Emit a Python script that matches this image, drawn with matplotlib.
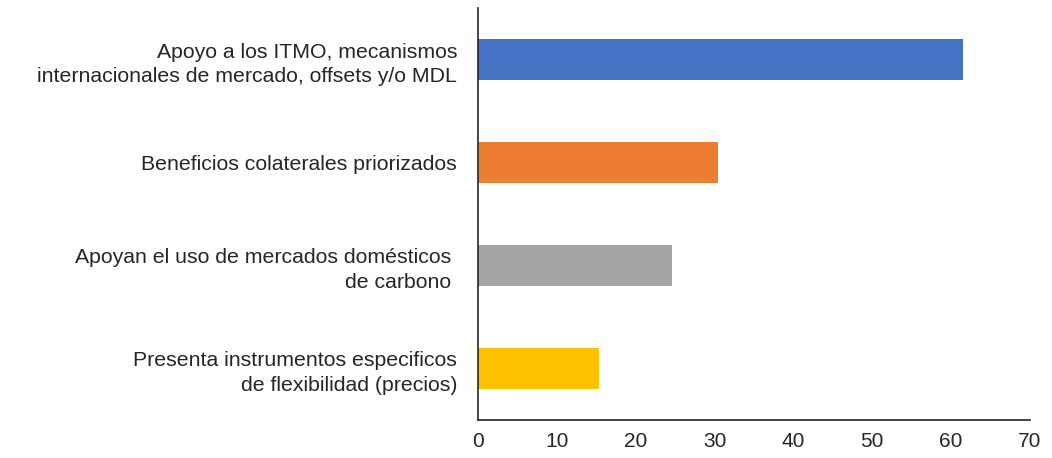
import matplotlib
matplotlib.use("Agg")
import matplotlib.pyplot as plt

plt.rcParams['font.family'] = ['Liberation Sans', 'DejaVu Sans']

categories = [
    "Apoyo a los ITMO, mecanismos\ninternacionales de mercado, offsets y/o MDL",
    "Beneficios colaterales priorizados",
    "Apoyan el uso de mercados domésticos \nde carbono ",
    "Presenta instrumentos especificos\nde flexibilidad (precios)",
]
values = [61.5, 30.4, 24.6, 15.3]
colors = ["#4472C4", "#ED7D31", "#A5A5A5", "#FFC000"]
xticks = [0, 10, 20, 30, 40, 50, 60, 70]

fig = plt.figure(figsize=(10.52, 4.58), dpi=100)
ax = fig.add_axes([0.4544, 0.083, 0.979 - 0.4544, 0.9825 - 0.083])

y = list(range(len(categories)))
ax.barh(y, values, height=0.4, color=colors)
ax.set_ylim(3.5, -0.5)
ax.set_xlim(0, 70)
ax.set_xticks(xticks)
ax.set_xticklabels([str(t) for t in xticks])
ax.set_yticks(y)
ax.set_yticklabels(categories, fontsize=15.3, color="#262626", linespacing=1.37)
ax.tick_params(axis='x', length=0, pad=9, labelsize=15, labelcolor="#262626")
ax.tick_params(axis='y', length=0, pad=15)
for s in ['top', 'right']:
    ax.spines[s].set_visible(False)
for s in ['left', 'bottom']:
    ax.spines[s].set_color("#262626")
    ax.spines[s].set_linewidth(1.2)

fig.savefig("out.png", dpi=100)
